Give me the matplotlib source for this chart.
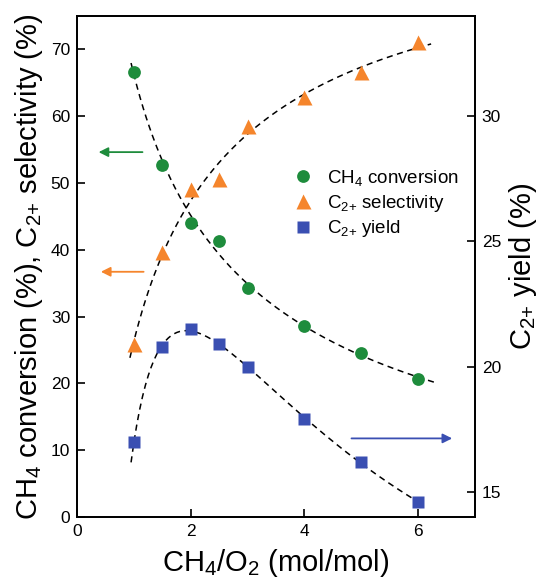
import numpy as np
import matplotlib
matplotlib.use('Agg')
import matplotlib.pyplot as plt

plt.rcParams['font.family'] = ['Liberation Sans', 'DejaVu Sans']
plt.rcParams['mathtext.fontset'] = 'custom'
plt.rcParams['mathtext.rm'] = 'Liberation Sans'
plt.rcParams['mathtext.default'] = 'regular'

ratio = np.array([1, 1.5, 2, 2.5, 3, 4, 5, 6])
conversion = np.array([66.6, 52.7, 44.0, 41.3, 34.2, 28.6, 24.5, 20.6])
selectivity = np.array([25.9, 39.6, 49.1, 50.6, 58.5, 62.8, 66.6, 71.0])
yld = np.array([17.0, 20.8, 21.5, 20.9, 20.0, 17.9, 16.2, 14.6])

green = '#1e8c3c'
orange = '#f5852c'
blue = '#3a4fb2'

# fitted guide curves (polynomials in ln x)
pc = np.polyfit(np.log(ratio), conversion, 2)
ps = np.polyfit(np.log(ratio), selectivity, 2)
py = np.polyfit(np.log(ratio), yld, 3)

fig = plt.figure(figsize=(5.39, 5.83), dpi=100)
ax = fig.add_axes([0.143, 0.113, 0.738, 0.86])
ax2 = ax.twinx()

xc = np.linspace(0.95, 6.29, 200)
xs = np.linspace(0.93, 6.23, 200)
xy = np.linspace(0.95, 5.96, 200)
ax.plot(xc, np.polyval(pc, np.log(xc)), '--', color='black', lw=1.1, dashes=(4, 3))
ax.plot(xs, np.polyval(ps, np.log(xs)), '--', color='black', lw=1.1, dashes=(4, 3))
ax2.plot(xy, np.polyval(py, np.log(xy)), '--', color='black', lw=1.1, dashes=(4, 3))

h1, = ax.plot(ratio, conversion, 'o', color=green, ms=9.2, mec='none')
h2, = ax.plot(ratio, selectivity, '^', color=orange, ms=10.8, mec='none')
h3, = ax2.plot(ratio, yld, 's', color=blue, ms=8, mec='none')

ax.annotate('', xy=(0.33, 54.6), xytext=(1.2, 54.6),
            arrowprops=dict(arrowstyle='-|>', color=green, lw=1.3, mutation_scale=14))
ax.annotate('', xy=(0.37, 36.7), xytext=(1.22, 36.7),
            arrowprops=dict(arrowstyle='-|>', color=orange, lw=1.3, mutation_scale=14))
ax2.annotate('', xy=(6.65, 17.14), xytext=(4.78, 17.14),
             arrowprops=dict(arrowstyle='-|>', color=blue, lw=1.3, mutation_scale=14))

ax.set_xlim(0, 7)
ax.set_ylim(0, 75)
ax2.set_ylim(14, 34)
ax.set_xticks([0, 2, 4, 6])
ax.set_yticks(range(0, 71, 10))
ax2.set_yticks([15, 20, 25, 30])

for a in (ax, ax2):
    a.tick_params(direction='in', length=6, width=1.2, labelsize=12.5, pad=5)
    for s in a.spines.values():
        s.set_linewidth(1.3)

c2 = 'C$_{2{+}}$'
ax.set_xlabel('CH$_4$/O$_2$ (mol/mol)', fontsize=21, labelpad=6)
ax.set_ylabel('CH$_4$ conversion (%), ' + c2 + ' selectivity (%)', fontsize=21, labelpad=4)
ax2.set_ylabel(c2 + ' yield (%)', fontsize=21, labelpad=4)

ax.legend([h1, h2, h3], ['CH$_4$ conversion', c2 + ' selectivity', c2 + ' yield'],
          loc='upper left', bbox_to_anchor=(0.5, 0.73), frameon=False, fontsize=13.5,
          handletextpad=0.7, labelspacing=0.25, handlelength=1.1)

fig.savefig('out.png', dpi=100)
